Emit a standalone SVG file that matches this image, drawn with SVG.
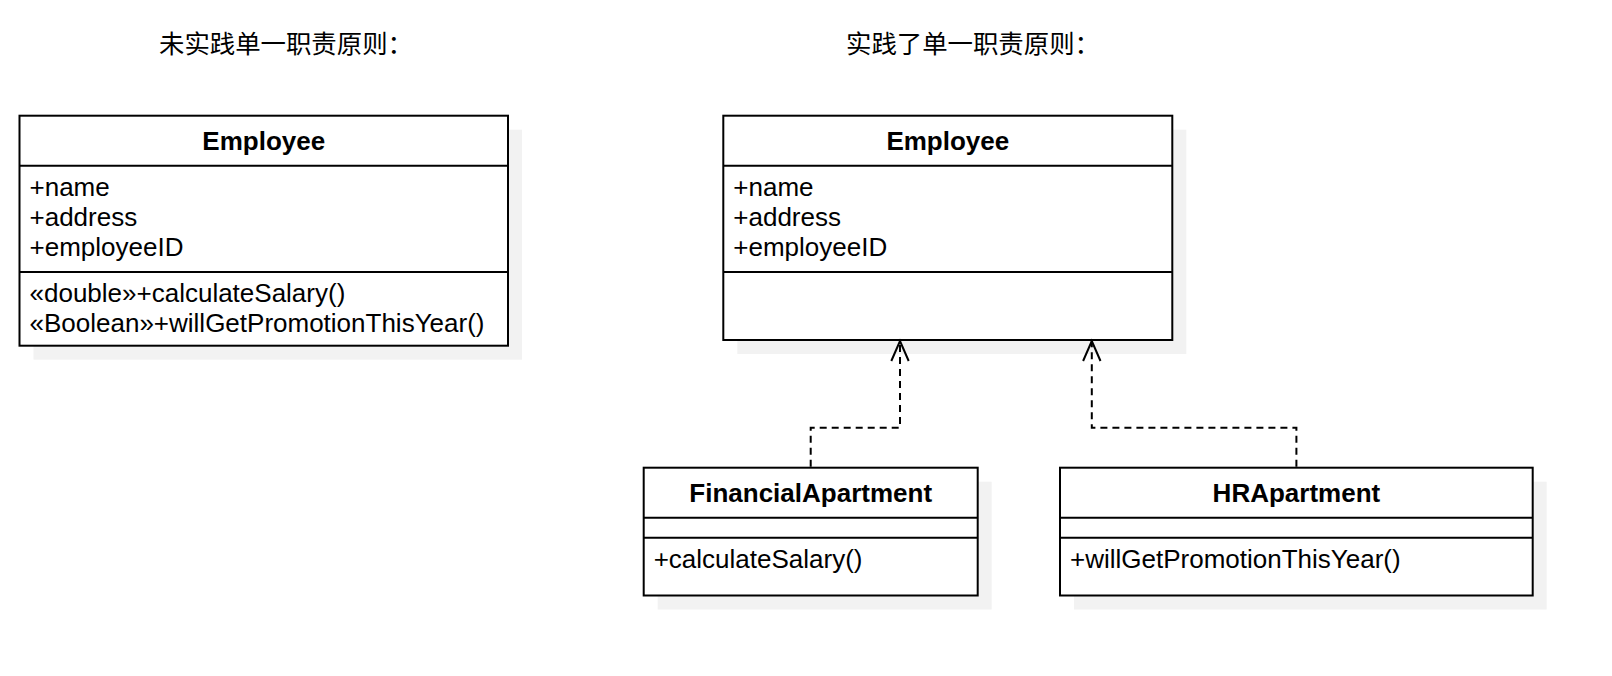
<svg xmlns="http://www.w3.org/2000/svg" width="1612" height="676" viewBox="0 0 1612 676">
  <style>
    .shadow { fill: #f2f2f2; stroke: none; }
    .box { fill: #ffffff; stroke: #000000; stroke-width: 2; }
    .div { stroke: #000000; stroke-width: 2; fill: none; }
    .title { font-family: "Noto Sans CJK SC", "Noto Sans", sans-serif; font-size: 25.4px; fill: #000000; }
    .head { font-family: "Liberation Sans", Arial, sans-serif; font-size: 26px; font-weight: bold; fill: #000000; text-anchor: middle; }
    .item { font-family: "Liberation Sans", Arial, sans-serif; font-size: 26px; fill: #000000; }
    .conn { fill: none; stroke: #000000; stroke-width: 2; stroke-dasharray: 7 5; }
  </style>
  <defs>
    <marker id="openArrow" markerUnits="userSpaceOnUse" viewBox="-22 -11 24 22" refX="0" refY="0" markerWidth="24" markerHeight="22" orient="auto" overflow="visible">
      <path d="M-20,-8.7 L0,0 L-20,8.7" fill="none" stroke="#000000" stroke-width="2"/>
    </marker>
  </defs>
  <rect width="1612" height="676" fill="#ffffff"/>

  <text class="title" x="159" y="53">未实践单一职责原则：</text>
  <text class="title" x="846" y="53">实践了单一职责原则：</text>

  <g id="employee-left">
    <rect class="shadow" x="33.5" y="129.7" width="488.5" height="230"/>
    <rect class="box" x="19.5" y="115.7" width="488.5" height="230"/>
    <line class="div" x1="19.5" y1="165.7" x2="508" y2="165.7"/>
    <line class="div" x1="19.5" y1="272" x2="508" y2="272"/>
    <text class="head" x="263.75" y="149.5">Employee</text>
    <text class="item" x="29.5" y="195.7">+name</text>
    <text class="item" x="29.5" y="225.5">+address</text>
    <text class="item" x="29.5" y="255.5">+employeeID</text>
    <text class="item" x="29.5" y="301.7">«double»+calculateSalary()</text>
    <text class="item" x="29.5" y="331.7">«Boolean»+willGetPromotionThisYear()</text>
  </g>

  <g id="employee-right">
    <rect class="shadow" x="737.3" y="129.7" width="449" height="224.3"/>
    <rect class="box" x="723.3" y="115.7" width="449" height="224.3"/>
    <line class="div" x1="723.3" y1="165.7" x2="1172.3" y2="165.7"/>
    <line class="div" x1="723.3" y1="272" x2="1172.3" y2="272"/>
    <text class="head" x="947.8" y="149.5">Employee</text>
    <text class="item" x="733.3" y="195.7">+name</text>
    <text class="item" x="733.3" y="225.5">+address</text>
    <text class="item" x="733.3" y="255.5">+employeeID</text>
  </g>

  <g id="financial-apartment">
    <rect class="shadow" x="657.7" y="481.7" width="334" height="127.8"/>
    <rect class="box" x="643.7" y="467.7" width="334" height="127.8"/>
    <line class="div" x1="643.7" y1="517.7" x2="977.7" y2="517.7"/>
    <line class="div" x1="643.7" y1="537.7" x2="977.7" y2="537.7"/>
    <text class="head" x="810.7" y="502">FinancialApartment</text>
    <text class="item" x="653.7" y="568.3">+calculateSalary()</text>
  </g>

  <g id="hr-apartment">
    <rect class="shadow" x="1074" y="481.7" width="472.7" height="127.8"/>
    <rect class="box" x="1060" y="467.7" width="472.7" height="127.8"/>
    <line class="div" x1="1060" y1="517.7" x2="1532.7" y2="517.7"/>
    <line class="div" x1="1060" y1="537.7" x2="1532.7" y2="537.7"/>
    <text class="head" x="1296.4" y="502">HRApartment</text>
    <text class="item" x="1070" y="568.3">+willGetPromotionThisYear()</text>
  </g>

  <g id="connectors">
    <path class="conn" d="M810.7,466.7 V427.7 H900 V341" marker-end="url(#openArrow)"/>
    <path class="conn" d="M1296.4,466.7 V427.7 H1091.8 V341" marker-end="url(#openArrow)"/>
  </g>
</svg>
